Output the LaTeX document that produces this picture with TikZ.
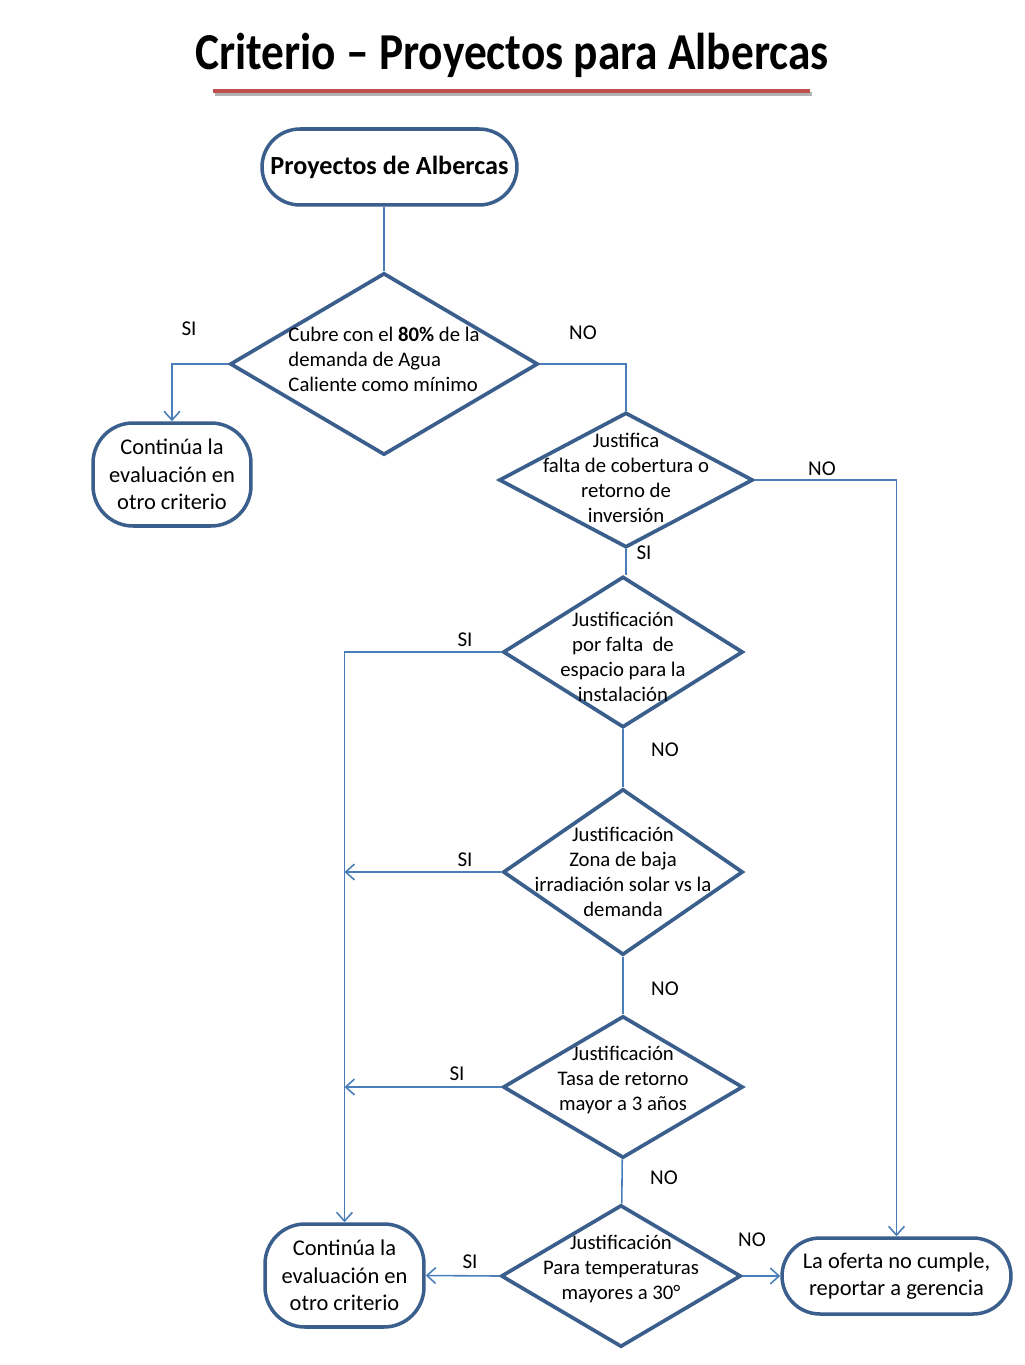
\documentclass[tikz,border=0pt]{standalone}
\usepackage{fontspec}
\setmainfont{Carlito}
\usetikzlibrary{shapes.geometric,arrows.meta}
\definecolor{borde}{HTML}{3A5F8D}
\definecolor{linea}{HTML}{4A7EBB}
\definecolor{rojo}{HTML}{C0504D}
\newcommand{\txtdiam}{\fontsize{11.8}{14.2}\selectfont}
\newcommand{\txtterm}{\fontsize{12.8}{15.6}\selectfont}
\tikzset{
  terminal/.style={draw=borde,line width=2pt,rectangle,align=center,inner sep=0pt,font=\txtterm},
  decision/.style={draw=borde,line width=2.1pt,diamond,inner sep=0pt},
  flecha/.style={draw=linea,line width=0.9pt,-{Straight Barb[length=5pt,width=9pt]}},
  union/.style={draw=linea,line width=0.9pt},
  etiq/.style={font=\fontsize{12}{14}\selectfont,inner sep=0pt}
}
\begin{document}
\begin{tikzpicture}[x=0.02cm,y=-0.02cm]
  \useasboundingbox (0,0) rectangle (1024,1365);

  % titulo
  \node[inner sep=0pt] (titulo) at (512,55)
    {\scalebox{0.875}[1]{\fontsize{29.5}{32}\selectfont\bfseries Criterio -- Proyectos para Albercas}};
  \draw[black!30,line width=2.3pt] (215,94) -- (812,94);
  \draw[rojo,line width=2.3pt] (213,91) -- (810,91);

  % terminales
  \node[terminal,minimum width=5.10cm,minimum height=1.52cm,rounded corners=0.76cm,
        font=\fontsize{14.9}{17}\selectfont\bfseries] (inicio) at (389.5,167) {Proyectos de Albercas};
  \node[terminal,minimum width=3.16cm,minimum height=2.06cm,rounded corners=0.8cm] (cont1) at (172,474.5)
    {Continúa la\\evaluación en\\otro criterio};
  \node[terminal,minimum width=3.18cm,minimum height=2.06cm,rounded corners=0.8cm] (cont2) at (344.5,1275.5)
    {Continúa la\\evaluación en\\otro criterio};
  \node[terminal,minimum width=4.58cm,minimum height=1.52cm,rounded corners=0.76cm] (nocumple) at (896.5,1276)
    {La oferta no cumple,\\reportar a gerencia};

  % decisiones
  \node[decision,minimum width=6.16cm,minimum height=3.64cm,
        label={[align=left,font=\txtdiam,yshift=0.1cm]center:{Cubre con el \textbf{80\%} de la\\demanda de Agua\\Caliente como mínimo}}]
        (cubre) at (384,364) {};
  \node[decision,minimum width=5.08cm,minimum height=2.70cm,
        label={[align=center,font=\txtdiam,yshift=0.04cm]center:{Justifica\\falta de cobertura o\\retorno de\\inversión}}]
        (justifica) at (626,480) {};
  \node[decision,minimum width=4.80cm,minimum height=3.02cm,
        label={[align=center,font=\txtdiam,yshift=-0.1cm]center:{Justificación\\por falta\ \ de\\espacio para la\\instalación}}]
        (espacio) at (623,652) {};
  \node[decision,minimum width=4.80cm,minimum height=3.32cm,
        label={[align=center,font=\txtdiam]center:{Justificación\\Zona de baja\\irradiación solar vs la\\demanda}}]
        (irrad) at (623,872) {};
  \node[decision,minimum width=4.80cm,minimum height=2.84cm,
        label={[align=center,font=\txtdiam,yshift=0.14cm]center:{Justificación\\Tasa de retorno\\mayor a 3 años}}]
        (tasa) at (623,1087) {};
  \node[decision,minimum width=4.80cm,minimum height=2.84cm,
        label={[align=center,font=\txtdiam,yshift=0.14cm]center:{Justificación\\Para temperaturas\\mayores a 30°}}]
        (temp) at (621,1276) {};

  % conexiones
  \draw[union] (cubre.north |- inicio.south) -- (cubre.north);
  \draw[flecha] (cubre.west) -| (cont1.north);
  \draw[union] (cubre.east) -| (justifica.north);
  \draw[flecha] (justifica.east) -| (nocumple.north);
  \draw[union] (justifica.south) -- (justifica.south |- espacio.north);
  \draw[flecha] (espacio.west) -| (cont2.north);
  \draw[union] (espacio) -- (irrad);
  \draw[union] (irrad) -- (tasa);
  \draw[union] (tasa) -- (temp);
  \foreach \d in {irrad,tasa} {
    \draw[flecha] (\d.west) -- (\d.west -| cont2.north);
  }
  \draw[flecha] (temp.west) -- (cont2.east);
  \draw[flecha] (temp.east) -- (nocumple.west);

  % etiquetas
  \node[etiq] (si1) at (189,329) {SI};
  \node[etiq] (no1) at (583,333) {NO};
  \node[etiq] (no2) at (822,469) {NO};
  \node[etiq] (si2) at (644,553) {SI};
  \node[etiq] (si3) at (465,640) {SI};
  \node[etiq] (no3) at (665,750) {NO};
  \node[etiq] (si4) at (465,860) {SI};
  \node[etiq] (no4) at (665,989) {NO};
  \node[etiq] (si5) at (457,1074) {SI};
  \node[etiq] (no5) at (664,1178) {NO};
  \node[etiq] (si6) at (470,1262) {SI};
  \node[etiq] (no6) at (752,1240) {NO};
\end{tikzpicture}
\end{document}
